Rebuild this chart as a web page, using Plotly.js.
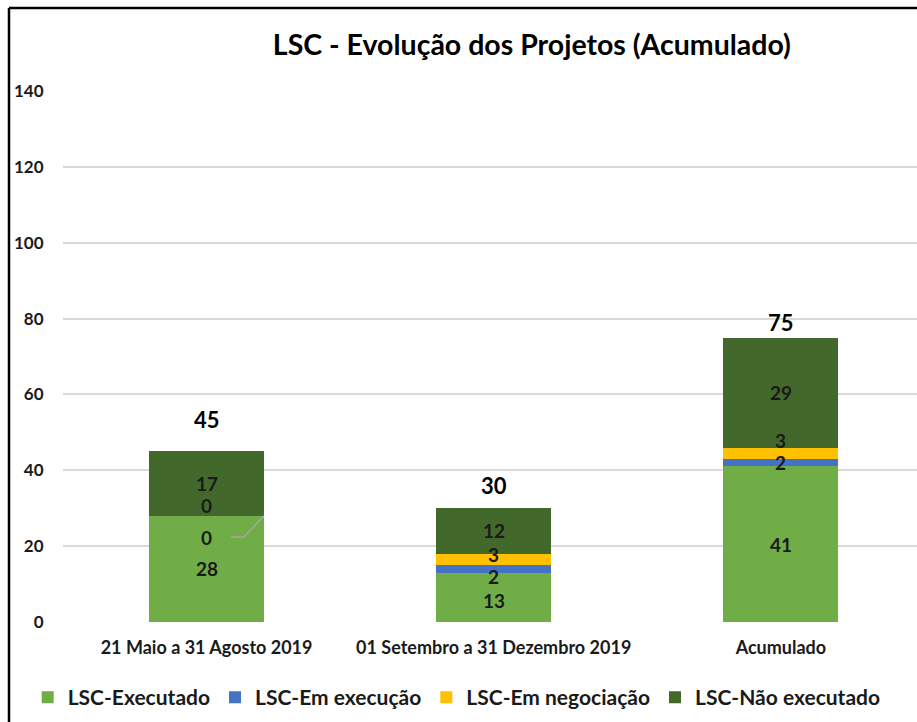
<!DOCTYPE html>
<html>
<head>
<meta charset="utf-8">
<script src="https://cdn.plot.ly/plotly-3.0.1.min.js"></script>
<style>html,body{margin:0;padding:0;background:#fff;}#chart{width:917px;height:722px;}</style>
</head>
<body>
<div id="chart"></div>
<script>
// ---- data ----
const categories = ["21 Maio a 31 Agosto 2019", "01 Setembro a 31 Dezembro 2019", "Acumulado"];
const seriesNames = ["LSC-Executado", "LSC-Em execução", "LSC-Em negociação", "LSC-Não executado"];
const executado = [28, 13, 41];
const emExecucao = [0, 2, 2];
const emNegociacao = [0, 3, 3];
const naoExecutado = [17, 12, 29];
const totals = [45, 30, 75];
const yTicks = [0, 20, 40, 60, 80, 100, 120, 140];

// ---- style ----
const colors = ["#70AD47", "#4472C4", "#FFC000", "#43682B"];
const FONT = "Lato, 'Open Sans', sans-serif";
const series = [executado, emExecucao, emNegociacao, naoExecutado];
// label pixel shifts to avoid overlap (style only)
const labelShift = [[0, -3, 0], [0, -8, 0], [10, 5, 13], [0, 0, 0]];
const totalShift = [32, 23, 15];

const traces = series.map((vals, i) => ({
  type: "bar",
  name: seriesNames[i],
  x: categories,
  y: vals,
  marker: {color: colors[i]},
  hoverinfo: "none"
}));

const annotations = [];
const shapes = [];
const cum = [0, 0, 0];
series.forEach((vals, i) => {
  vals.forEach((v, j) => {
    const base = cum[j];
    if (i === 1 && j === 0) {
      // zero label moved out with leader line to the segment edge
      const ly = base + v - 5.6;
      annotations.push({
        x: j, y: ly, xref: "x", yref: "y",
        text: String(v), showarrow: false,
        font: {family: FONT, size: 19, color: "#1a1a1a", weight: "bold"}
      });
      shapes.push({
        type: "path", xref: "x", yref: "y",
        path: `M ${j + 0.085},${ly} L ${j + 0.13},${ly} L ${j + 0.2},${base + v}`,
        line: {color: "#a6a6a6", width: 1.5}
      });
    } else {
      annotations.push({
        x: j, y: base + v / 2, xref: "x", yref: "y",
        text: String(v), showarrow: false, yshift: labelShift[i][j],
        font: {family: FONT, size: 19, color: "#1a1a1a", weight: "bold"}
      });
    }
    cum[j] += v;
  });
});
totals.forEach((t, j) => {
  annotations.push({
    x: j, y: t, xref: "x", yref: "y", text: String(t), showarrow: false,
    yshift: totalShift[j],
    font: {family: FONT, size: 22, color: "#000", weight: "bold"}
  });
});

shapes.push(
  {type: "line", xref: "paper", yref: "paper", x0: -54/854, x1: 1.01, y0: 1 + 83/531, y1: 1 + 83/531,
   line: {color: "#000", width: 2.5}},
  {type: "line", xref: "paper", yref: "paper", x0: -54/854, x1: -54/854, y0: 1 + 83/531, y1: -0.2,
   line: {color: "#000", width: 2.5}}
);

const layout = {
  width: 917, height: 722,
  margin: {l: 63, r: 0, t: 91, b: 100},
  paper_bgcolor: "#fff", plot_bgcolor: "#fff",
  barmode: "stack", bargap: 0.6,
  title: {
    text: "LSC - Evolução dos Projetos (Acumulado)",
    font: {family: FONT, size: 28.5, color: "#000", weight: "bold"},
    x: 0.58, xanchor: "center", y: 0.938, yanchor: "middle"
  },
  xaxis: {
    range: [-0.5, 2.474], showgrid: false, zeroline: false, showline: false,
    tickfont: {family: FONT, size: 18, color: "#1a1a1a", weight: "bold"},
    ticks: "outside", ticklen: 9, tickcolor: "rgba(0,0,0,0)", fixedrange: true
  },
  yaxis: {
    range: [0, 140], tickvals: yTicks, showgrid: true, gridcolor: "#d9d9d9", gridwidth: 2,
    zeroline: false, showline: false,
    tickfont: {family: FONT, size: 17, color: "#1a1a1a", weight: "bold"},
    ticks: "outside", ticklen: 15, tickcolor: "rgba(0,0,0,0)", fixedrange: true
  },
  legend: {
    orientation: "h", x: 0.461, xanchor: "center",
    yref: "container", y: 1 - 677/722, yanchor: "top",
    font: {family: FONT, size: 21, color: "#1a1a1a", weight: "bold"},
    traceorder: "normal", itemclick: false, itemdoubleclick: false, itemwidth: 30
  },
  annotations: annotations,
  shapes: shapes,
  showlegend: true
};

Plotly.newPlot("chart", traces, layout, {displayModeBar: false, staticPlot: true});
</script>
</body>
</html>
